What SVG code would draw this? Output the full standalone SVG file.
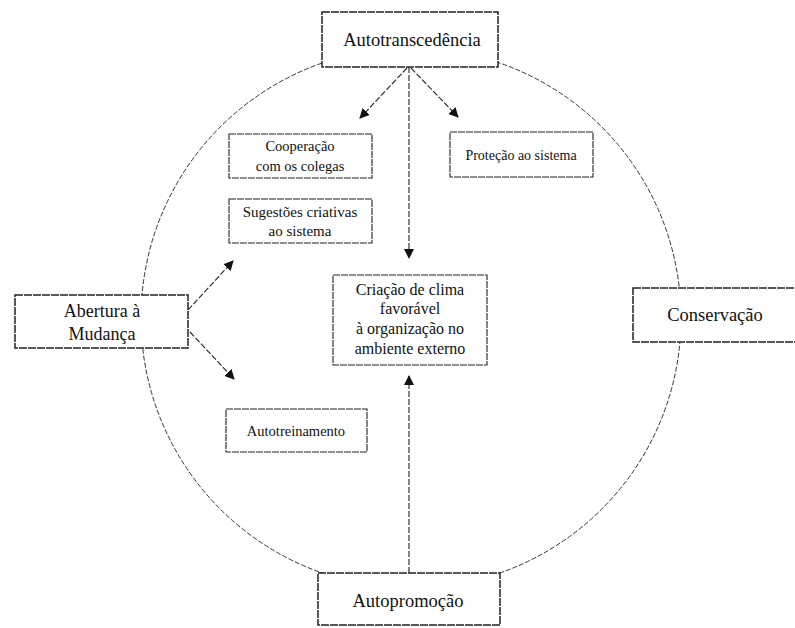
<svg xmlns="http://www.w3.org/2000/svg" width="795" height="628" viewBox="0 0 795 628">
<defs>
<marker id="ah" viewBox="0 0 10 10" refX="9" refY="5" markerWidth="10" markerHeight="10" markerUnits="userSpaceOnUse" orient="auto">
<path d="M0,0 L10,5 L0,10 z" fill="#111"/>
</marker>
<style>
.bx{fill:#fff;stroke:#222;stroke-width:1.1;stroke-dasharray:7 1}
.mb{fill:#fff;stroke:#222;stroke-width:1.5;stroke-dasharray:8 1}
.t{fill:#111;text-anchor:middle}
.ln{stroke:#222;stroke-width:1.1;fill:none;stroke-dasharray:6 2}
</style>
</defs>
<rect width="795" height="628" fill="#fff"/>
<circle cx="411" cy="318" r="270" fill="none" stroke="#333" stroke-width="1" stroke-dasharray="5 2"/>
<g id="connectors">
<line class="ln" x1="409" y1="67" x2="409" y2="258" marker-end="url(#ah)"/>
<line class="ln" x1="407" y1="68" x2="360" y2="118" marker-end="url(#ah)"/>
<line class="ln" x1="411" y1="68" x2="458" y2="117" marker-end="url(#ah)"/>
<line class="ln" x1="188" y1="310" x2="233" y2="261" marker-end="url(#ah)"/>
<line class="ln" x1="190" y1="332" x2="234" y2="379" marker-end="url(#ah)"/>
<line class="ln" x1="409" y1="573" x2="409" y2="376" marker-end="url(#ah)"/>
</g>
<g font-family="'Liberation Serif', 'DejaVu Serif', 'Times New Roman', serif">
<g id="autotranscendencia">
<rect class="mb" x="322" y="12" width="176" height="55"/>
<text class="t" x="412" y="46" font-size="18.5">Autotranscedência</text>
</g>
<g id="abertura">
<rect class="mb" x="15" y="295" width="173" height="53"/>
<text class="t" x="102" y="317" font-size="18">Abertura à</text>
<text class="t" x="102" y="340" font-size="18">Mudança</text>
</g>
<g id="conservacao">
<rect class="mb" x="633" y="288" width="170" height="54"/>
<text class="t" x="715" y="321" font-size="18.5">Conservação</text>
</g>
<g id="autopromocao">
<rect class="mb" x="318" y="573" width="182" height="52"/>
<text class="t" x="408" y="607" font-size="18.5">Autopromoção</text>
</g>
<g id="cooperacao">
<rect class="bx" x="229" y="134" width="143" height="44"/>
<text class="t" x="300" y="151" font-size="14.5">Cooperação</text>
<text class="t" x="300" y="171" font-size="14.5">com os colegas</text>
</g>
<g id="protecao">
<rect class="bx" x="450" y="132" width="143" height="45"/>
<text class="t" x="521" y="160" font-size="14">Proteção ao sistema</text>
</g>
<g id="sugestoes">
<rect class="bx" x="229" y="199" width="143" height="44"/>
<text class="t" x="300" y="217" font-size="15">Sugestões criativas</text>
<text class="t" x="300" y="236" font-size="15">ao sistema</text>
</g>
<g id="criacao">
<rect class="bx" x="333" y="275" width="154" height="90"/>
<text class="t" x="410" y="295" font-size="16">Criação de clima</text>
<text class="t" x="410" y="314" font-size="16">favorável</text>
<text class="t" x="410" y="334" font-size="16">à organização no</text>
<text class="t" x="410" y="354" font-size="16">ambiente externo</text>
</g>
<g id="autotreinamento">
<rect class="bx" x="226" y="409" width="141" height="43"/>
<text class="t" x="296" y="436" font-size="14.5">Autotreinamento</text>
</g>
</g>
</svg>
